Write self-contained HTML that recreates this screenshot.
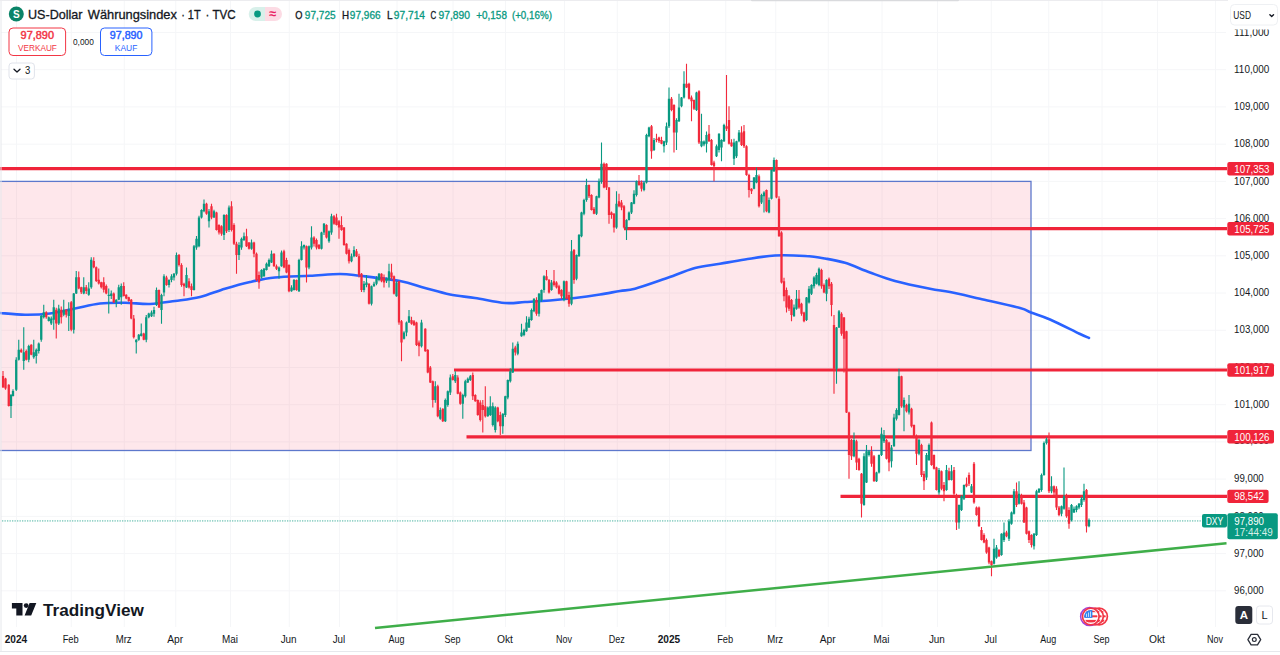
<!DOCTYPE html>
<html lang="de"><head><meta charset="utf-8"><title>US-Dollar Währungsindex</title>
<style>html,body{margin:0;padding:0;background:#fff;width:1280px;height:655px;overflow:hidden}svg text{font-family:"Liberation Sans",sans-serif}</style></head>
<body>
<svg width="1280" height="655" viewBox="0 0 1280 655" font-family='"Liberation Sans", sans-serif' style="display:block;position:absolute;left:0;top:0">
<rect x="0" y="0" width="1280" height="655" fill="#ffffff"/>
<path d="M16.5 1V627M71.25 1V627M124.25 1V627M175.75 1V627M230.5 1V627M289.25 1V627M339.5 1V627M397 1V627M453 1V627M505.5 1V627M564.5 1V627M617.25 1V627M669.5 1V627M725.75 1V627M775.75 1V627M828.25 1V627M882 1V627M937.5 1V627M991.25 1V627M1048.75 1V627M1102 1V627M1157.5 1V627M1215.5 1V627M1 590.8H1226M1 553.6H1226M1 516.4H1226M1 479.1H1226M1 441.9H1226M1 404.7H1226M1 367.5H1226M1 330.3H1226M1 293.0H1226M1 255.8H1226M1 218.6H1226M1 181.4H1226M1 144.2H1226M1 106.9H1226M1 69.7H1226M1 32.5H1226" stroke="#f5f6f8" stroke-width="1" fill="none"/>
<rect x="-2" y="181.4" width="1033" height="269.1" fill="#f7284f" fill-opacity="0.115" stroke="#5d78cc" stroke-width="1.3"/>
<path d="M2 520.9H1202" stroke="#089981" stroke-width="1.6" stroke-dasharray="1.3 1.2" opacity="0.42"/>
<path d="M0 168.7H1227" stroke="#f0243a" stroke-width="3.2"/>
<path d="M624 228.7H1227" stroke="#f0243a" stroke-width="3.2"/>
<path d="M454 370H1227" stroke="#f0243a" stroke-width="3.2"/>
<path d="M466.5 436.8H1227" stroke="#f0243a" stroke-width="3.2"/>
<path d="M840.5 496.4H1227" stroke="#f0243a" stroke-width="3.2"/>
<path d="M0 313C4.17 313.29 16.67 314.67 25 314.75C33.33 314.83 41.67 314.54 50 313.5C58.33 312.46 66.67 310.17 75 308.5C83.33 306.83 91.67 304.46 100 303.5C108.33 302.54 116.67 302.67 125 302.75C133.33 302.83 141.67 304.29 150 304C158.33 303.71 166.67 302.17 175 301C183.33 299.83 191.67 299.04 200 297C208.33 294.96 216.67 291.25 225 288.75C233.33 286.25 241.67 283.88 250 282C258.33 280.12 265 278.54 275 277.5C285 276.46 299.17 276.33 310 275.75C320.83 275.17 331.67 274 340 274C348.33 274 350 274.58 360 275.75C370 276.92 389.17 278.96 400 281C410.83 283.04 416.67 285.75 425 288C433.33 290.25 441.67 292.83 450 294.5C458.33 296.17 465.83 296.58 475 298C484.17 299.42 496.67 302.33 505 303C513.33 303.67 517.5 302.42 525 302C532.5 301.58 541.67 301.17 550 300.5C558.33 299.83 566.67 299 575 298C583.33 297 592.5 295.67 600 294.5C607.5 293.33 614.17 291.96 620 291C625.83 290.04 627.5 290.79 635 288.75C642.5 286.71 655 282.21 665 278.75C675 275.29 685.83 270.5 695 268C704.17 265.5 711.67 265.17 720 263.75C728.33 262.33 735.83 260.88 745 259.5C754.17 258.12 765 256.08 775 255.5C785 254.92 796.67 255.5 805 256C813.33 256.5 818.33 257.37 825 258.5C831.67 259.63 837.5 260.47 845 262.8C852.5 265.13 861.67 269.47 870 272.5C878.33 275.53 885 278.29 895 281C905 283.71 920.83 286.92 930 288.75C939.17 290.58 941.67 290.33 950 292C958.33 293.67 968.33 296.08 980 298.75C991.67 301.42 1011.5 305.71 1020 308C1028.5 310.29 1026 310.58 1031 312.5C1036 314.42 1041.92 315.96 1050 319.5C1058.08 323.04 1073 330.67 1079.5 333.75C1086 336.83 1087.42 337.29 1089 338" stroke="#2962ff" stroke-width="2.6" fill="none" stroke-linecap="round" stroke-linejoin="round"/>
<path d="M11 394.23V418M13 389.27V396.6M16.25 357.17V391.05M18.75 339.75V360.41M23.75 327.25V369.75M28.75 344.67V362.25M33.75 339.75V358.77M36.25 348.61V363.5M38.75 342.52V353.44M41.25 315.01V341.86M43.75 304.75V318.49M48.75 316.49V321.59M51.25 316.47V324.96M53.75 299.75V329.75M58.75 304.75V324.93M63.75 299.75V316.35M68.75 302.25V331M73.75 292.96V333.5M76.25 271V294.07M83.75 277.25V294.13M88.75 282.25V295.65M91.25 257.25V288.86M108.75 288.5V313.5M111.25 290.54V298.94M116.25 299.24V307.25M118.75 284.75V300.37M121.25 283.5V304.75M136.25 339.22V353.5M138.75 333.93V340.72M141.25 323.5V336.58M146.25 314.94V342.35M148.75 312.66V318.2M151.5 310.55V317.01M154 306.7V316.66M156.5 287.38V305.91M161.5 293.87V323.75M164 274.25V296.24M169 279.36V287.47M171.5 274.34V282.33M174 273.05V280.49M176.5 252.5V275.51M186.5 267.5V288.07M194 245.08V290.51M196.5 236.04V249.72M199 215.68V247.36M201.5 209.24V218.49M204 199.5V212.13M209 208.9V227.5M214 209.82V218.03M224 214.29V240M229 205.51V231.92M239 242.35V260M241.5 237.39V249.85M244 232.5V240.9M251.5 239.54V249.64M261.5 269.26V278.61M264 268.03V276.8M266.5 262.4V270.52M269 258.38V266.97M271.5 250.57V263.1M279 266.52V278.75M281.5 250.6V266.77M291.5 285.21V291.87M294 279.06V290.56M299 258.73V292.06M301.5 241.25V260.52M304 244.49V249.41M309 245.4V269.24M311.5 226.25V249.45M321.5 231.82V249.4M324 223V235.04M329 230.5V242.64M331.5 213.75V234.86M351.5 253.55V262.19M354 246.25V257.27M364 280.92V292.33M366.5 275V287.16M371.5 285.44V305.48M374 281.76V286.76M376.5 276.16V285.19M379 273.1V281.15M386.5 277.59V282.9M389 263.75V287.5M396.5 281.21V296.77M404 331.16V339.44M406.5 321.38V336.21M409 310V323.03M421.5 319.82V347.48M435.3 381.25V402.81M440.3 407.44V419.79M445.3 398.56V421.98M447.8 390.41V406.75M450.3 374.49V395.02M455.3 371.25V382.91M462.8 393.73V418.75M465.3 379.86V397.44M467.8 377.48V383.09M470.3 375.09V380.88M487.8 406.55V416.81M490.3 396.25V415.93M492.8 402.5V426.61M495.3 406.35V432.5M502.8 413.18V433.75M505.3 395.67V416.98M507.8 379.5V399.27M510.3 368.28V382.6M512.8 342.5V373.06M517.8 341.52V355.13M521.5 323.75V336.86M524 328.75V336.19M526.5 316.25V331.86M529 316.69V328.03M531.5 308.43V320.8M534 298.23V312.24M539 293.05V316.62M541.5 289.48V301.68M544 275.37V292.66M551.5 279.94V290.86M564 280.55V301.23M571.5 240V305.32M576.5 254.42V280.13M579 234.07V256.75M581.5 211.66V237.16M584 198.8V215.28M586.5 178.75V201.74M596.5 195.74V215.08M599 178.4V198.32M601.5 142.5V183.82M616.5 191.25V228.74M626.5 219.28V240M629 211.48V220.56M631.5 201.93V214.12M634 190.2V204.33M636.5 180.58V196.61M644 181.72V191.36M646.5 133.76V183.51M649 126.79V137.22M654 138.12V150.91M664 140.67V152.5M666.5 122.5V144.99M669 87.5V127.96M676.5 118.21V150M679 93.75V122.03M681.5 96.9V107.28M684 71.25V98.46M696.5 91.8V110.9M701.5 113.75V147.37M704 140.48V146.25M706.5 131.49V152.5M716.5 144.49V157.01M719 133.22V152.54M721.5 139.31V161.25M724 123.85V141.89M734 138.78V165M736.5 140.66V158.01M739 130.04V142.21M754 176.92V189.35M756.5 167.5V183.35M761.5 193.64V203.98M764 191.31V212.5M769 197.42V213.29M771.5 169.32V199.44M774 157.5V171.89M794 304.43V316.83M796.5 290V309.67M806.5 296.98V321.03M809 286.12V303.46M811.5 284.29V295.05M814 276.25V288.45M816.5 272.71V284.61M819 267.5V286.37M826.5 279.37V301.25M836.5 327V383.75M839 310V328.02M854 432.5V457.17M864 453.36V505.87M866.5 445V483.03M869 450.06V456.5M876.5 471.66V481.91M879 454.48V473.47M881.5 427.5V455.92M884 430V442.89M891.5 445.04V467.5M894 413.75V446.77M896.5 408.29V420.42M899 368.75V415.58M904 397.44V431.25M909 395V414.44M919 438.65V455.26M926.5 453.12V480.09M929 443.39V461.11M939 467.96V494.8M946.5 465V490.7M951.5 465V480.51M959 504.47V528.75M961.5 495.21V510.97M964 484.48V499.96M971.5 483.91V493.04M994 538.75V564.47M996.5 545.08V558.78M1001.5 533.17V555.69M1004 522.5V542.08M1009 519.35V540.95M1011.5 511.6V524.71M1014 489.03V514.51M1019 481.25V504.45M1034 533.11V549.49M1036.5 489.63V535.94M1039 488.17V493.05M1041.5 473.4V491.71M1044 441.47V475.8M1046.5 437.5V444.55M1051.5 476.25V493.25M1061.5 505.61V516.2M1064 467.5V509.8M1071.5 504.08V521.56M1074 506.58V513.07M1076.5 505.31V512.21M1079 503.05V509.36M1081.5 497.1V507.01M1084 483.75V501.86M1089 518.45V527.17" stroke="#089981" stroke-width="1.1" fill="none"/>
<path d="M9.85 394.75h2.3V406h-2.3zM11.85 391h2.3V396h-2.3zM15.1 359.75h2.3V389.75h-2.3zM17.6 349.75h2.3V359.75h-2.3zM22.6 352.25h2.3V361h-2.3zM27.6 346h2.3V359.75h-2.3zM32.6 352.25h2.3V357.25h-2.3zM35.1 349.75h2.3V356h-2.3zM37.6 343.5h2.3V351h-2.3zM40.1 316h2.3V339.75h-2.3zM42.6 312.25h2.3V317.25h-2.3zM47.6 317.25h2.3V321h-2.3zM50.1 318.5h2.3V323.5h-2.3zM52.6 307.25h2.3V319.75h-2.3zM57.6 308.5h2.3V323.5h-2.3zM62.6 309.75h2.3V314.75h-2.3zM67.6 309.75h2.3V316h-2.3zM72.6 293.5h2.3V329.75h-2.3zM75.1 277.25h2.3V293.5h-2.3zM82.6 287.25h2.3V293.5h-2.3zM87.6 288.5h2.3V294.75h-2.3zM90.1 259.75h2.3V287.25h-2.3zM107.6 294.75h2.3V296h-2.3zM110.1 293.5h2.3V296h-2.3zM115.1 299.75h2.3V302.25h-2.3zM117.6 287.25h2.3V299.75h-2.3zM120.1 286h2.3V297.25h-2.3zM135.1 339.75h2.3V342.25h-2.3zM137.6 334.75h2.3V339.75h-2.3zM140.1 333.5h2.3V336h-2.3zM145.1 317.25h2.3V339.75h-2.3zM147.6 313.5h2.3V317.25h-2.3zM150.35 312.5h2.3V316.25h-2.3zM152.85 310h2.3V313.75h-2.3zM155.35 290h2.3V305h-2.3zM160.35 295h2.3V310h-2.3zM162.85 276.25h2.3V292.5h-2.3zM167.85 280h2.3V285h-2.3zM170.35 276.25h2.3V280h-2.3zM172.85 273.75h2.3V277.5h-2.3zM175.35 255h2.3V273.75h-2.3zM185.35 275h2.3V287.5h-2.3zM192.85 246.25h2.3V290h-2.3zM195.35 238.75h2.3V247.5h-2.3zM197.85 217.5h2.3V246.25h-2.3zM200.35 210h2.3V217.5h-2.3zM202.85 203.75h2.3V211.25h-2.3zM207.85 211.25h2.3V221.25h-2.3zM212.85 211.25h2.3V217.5h-2.3zM222.85 215h2.3V235h-2.3zM227.85 207.5h2.3V230h-2.3zM237.85 245h2.3V255h-2.3zM240.35 238.75h2.3V247.5h-2.3zM242.85 236.25h2.3V240h-2.3zM250.35 242.5h2.3V248.75h-2.3zM260.35 270h2.3V277.5h-2.3zM262.85 268.75h2.3V276.25h-2.3zM265.35 263.75h2.3V270h-2.3zM267.85 260h2.3V266.25h-2.3zM270.35 253.75h2.3V262.5h-2.3zM277.85 267.5h2.3V271.25h-2.3zM280.35 252.5h2.3V266.25h-2.3zM290.35 287.5h2.3V291.25h-2.3zM292.85 280h2.3V290h-2.3zM297.85 260h2.3V291.25h-2.3zM300.35 246.25h2.3V260h-2.3zM302.85 245h2.3V247.5h-2.3zM307.85 246.25h2.3V267.5h-2.3zM310.35 237.5h2.3V247.5h-2.3zM320.35 232.5h2.3V248.75h-2.3zM322.85 223.75h2.3V232.5h-2.3zM327.85 231.25h2.3V241.25h-2.3zM330.35 216.25h2.3V232.5h-2.3zM350.35 256.25h2.3V261.25h-2.3zM352.85 250h2.3V256.25h-2.3zM362.85 283.75h2.3V290h-2.3zM365.35 282.5h2.3V285h-2.3zM370.35 286.25h2.3V303.75h-2.3zM372.85 283.75h2.3V286.25h-2.3zM375.35 278.75h2.3V283.75h-2.3zM377.85 273.75h2.3V280h-2.3zM385.35 278.75h2.3V281.25h-2.3zM387.85 271.25h2.3V280h-2.3zM395.35 282.5h2.3V296.25h-2.3zM402.85 332.5h2.3V338.75h-2.3zM405.35 322.5h2.3V332.5h-2.3zM407.85 316.25h2.3V322.5h-2.3zM420.35 322.5h2.3V346.25h-2.3zM434.15 386.25h2.3V400h-2.3zM439.15 410h2.3V418.75h-2.3zM444.15 400h2.3V421.25h-2.3zM446.65 391.25h2.3V405h-2.3zM449.15 377.5h2.3V392.5h-2.3zM454.15 375h2.3V381.25h-2.3zM461.65 395h2.3V403.75h-2.3zM464.15 381.25h2.3V396.25h-2.3zM466.65 378.75h2.3V382.5h-2.3zM469.15 376.25h2.3V380h-2.3zM486.65 407.5h2.3V416.25h-2.3zM489.15 406.25h2.3V415h-2.3zM491.65 406.25h2.3V425h-2.3zM494.15 407.5h2.3V430h-2.3zM501.65 413.75h2.3V426.25h-2.3zM504.15 396.25h2.3V415h-2.3zM506.65 380h2.3V397.5h-2.3zM509.15 371.25h2.3V381.25h-2.3zM511.65 348.75h2.3V372.5h-2.3zM516.65 343.75h2.3V353.75h-2.3zM520.35 332.5h2.3V336.25h-2.3zM522.85 330h2.3V335h-2.3zM525.35 322.5h2.3V331.25h-2.3zM527.85 318.75h2.3V327.5h-2.3zM530.35 310h2.3V320h-2.3zM532.85 298.75h2.3V311.25h-2.3zM537.85 293.75h2.3V313.75h-2.3zM540.35 290h2.3V300h-2.3zM542.85 276.25h2.3V290h-2.3zM550.35 282.5h2.3V290h-2.3zM562.85 281.25h2.3V300h-2.3zM570.35 251.25h2.3V303.75h-2.3zM575.35 255h2.3V278.75h-2.3zM577.85 235h2.3V256.25h-2.3zM580.35 212.5h2.3V236.25h-2.3zM582.85 200h2.3V213.75h-2.3zM585.35 185h2.3V200h-2.3zM595.35 196.25h2.3V213.75h-2.3zM597.85 181.25h2.3V197.5h-2.3zM600.35 163.75h2.3V181.25h-2.3zM615.35 203.75h2.3V227.5h-2.3zM625.35 220h2.3V228.75h-2.3zM627.85 212.5h2.3V220h-2.3zM630.35 202.5h2.3V212.5h-2.3zM632.85 193.75h2.3V203.75h-2.3zM635.35 181.25h2.3V195h-2.3zM642.85 182.5h2.3V190h-2.3zM645.35 135h2.3V182.5h-2.3zM647.85 127.5h2.3V136.25h-2.3zM652.85 140h2.3V150h-2.3zM662.85 141.25h2.3V146.25h-2.3zM665.35 126.25h2.3V142.5h-2.3zM667.85 98.75h2.3V126.25h-2.3zM675.35 120h2.3V132.5h-2.3zM677.85 107.5h2.3V121.25h-2.3zM680.35 97.5h2.3V106.25h-2.3zM682.85 83.75h2.3V97.5h-2.3zM695.35 92.5h2.3V110h-2.3zM700.35 141.25h2.3V146.25h-2.3zM702.85 141.5h2.3V144.5h-2.3zM705.35 135h2.3V143.75h-2.3zM715.35 146.25h2.3V156.25h-2.3zM717.85 133.75h2.3V150h-2.3zM720.35 140h2.3V147.5h-2.3zM722.85 125h2.3V141.25h-2.3zM732.85 142.5h2.3V158.75h-2.3zM735.35 141.25h2.3V156.25h-2.3zM737.85 132.5h2.3V141.25h-2.3zM752.85 177.5h2.3V188.75h-2.3zM755.35 175h2.3V182.5h-2.3zM760.35 195h2.3V202.5h-2.3zM762.85 192.5h2.3V196.25h-2.3zM767.85 200h2.3V212.5h-2.3zM770.35 170h2.3V198.75h-2.3zM772.85 160h2.3V171.25h-2.3zM792.85 307.5h2.3V316.25h-2.3zM795.35 298.75h2.3V308.75h-2.3zM805.35 297.5h2.3V320h-2.3zM807.85 288.75h2.3V302.5h-2.3zM810.35 285h2.3V293.75h-2.3zM812.85 277.5h2.3V286.25h-2.3zM815.35 275h2.3V283.75h-2.3zM817.85 268.75h2.3V285h-2.3zM825.35 280h2.3V293.75h-2.3zM835.35 327.5h2.3V368.75h-2.3zM837.85 311.25h2.3V327.5h-2.3zM852.85 440h2.3V456.25h-2.3zM862.85 456.25h2.3V505h-2.3zM865.35 451.25h2.3V482.5h-2.3zM867.85 451.25h2.3V455h-2.3zM875.35 472.5h2.3V481.25h-2.3zM877.85 455h2.3V472.5h-2.3zM880.35 433.75h2.3V455h-2.3zM882.85 435h2.3V441.25h-2.3zM890.35 447.5h2.3V461.25h-2.3zM892.85 417.5h2.3V446.25h-2.3zM895.35 410h2.3V418.75h-2.3zM897.85 376.25h2.3V415h-2.3zM902.85 400h2.3V407.5h-2.3zM907.85 403.75h2.3V412.5h-2.3zM917.85 440h2.3V453.75h-2.3zM925.35 455h2.3V477.5h-2.3zM927.85 445h2.3V460h-2.3zM937.85 470h2.3V492.5h-2.3zM945.35 470h2.3V490h-2.3zM950.35 471.25h2.3V480h-2.3zM957.85 505h2.3V522.5h-2.3zM960.35 496.25h2.3V510h-2.3zM962.85 485h2.3V498.75h-2.3zM970.35 486.25h2.3V492.5h-2.3zM992.85 548.75h2.3V563.75h-2.3zM995.35 547.5h2.3V557.5h-2.3zM1000.35 533.75h2.3V555h-2.3zM1002.85 532.5h2.3V540h-2.3zM1007.85 521.25h2.3V538.75h-2.3zM1010.35 512.5h2.3V523.75h-2.3zM1012.85 491.25h2.3V513.75h-2.3zM1017.85 493.75h2.3V503.75h-2.3zM1032.85 533.75h2.3V546.25h-2.3zM1035.35 491.25h2.3V535h-2.3zM1037.85 488.75h2.3V492.5h-2.3zM1040.35 475h2.3V490h-2.3zM1042.85 443h2.3V475h-2.3zM1045.35 439.25h2.3V443h-2.3zM1050.35 486.25h2.3V491.25h-2.3zM1060.35 506.25h2.3V513.75h-2.3zM1062.85 496.25h2.3V508.75h-2.3zM1070.35 505h2.3V520h-2.3zM1072.85 508.75h2.3V512.5h-2.3zM1075.35 506.25h2.3V510h-2.3zM1077.85 503.75h2.3V507.5h-2.3zM1080.35 498.75h2.3V505h-2.3zM1082.85 491.25h2.3V500h-2.3zM1087.85 520h2.3V526.25h-2.3z" fill="#089981"/>
<path d="M3 371V387.92M5.5 377.83V389.69M8.75 384.15V406.56M21.25 348.38V352.81M26.25 349.62V360.62M31.25 344.13V355.29M46.25 311.34V318.86M56.25 307.8V338.5M61.25 306.47V323.5M66.25 309.1V317.5M71.25 300.93V331.15M78.75 271.5V289.16M81.25 286.64V293.94M86.25 285.05V293.98M93.75 257.25V268.26M96.25 266.61V281.9M98.75 268.5V284.54M101.25 281.74V288.48M103.75 277.25V292.55M106.25 284.39V294.13M113.75 292.45V302.98M123.75 282.25V296.56M126.25 294.25V299.13M128.75 296.67V301.82M131.25 298.94V319.16M133.75 315.05V338.54M143.75 332.73V340.3M159 289.46V308.03M166.5 275.78V285.68M179 254.01V266.43M181.5 263.15V286.83M184 282.82V296.25M189 278.2V288.42M191.5 283.49V296.25M206.5 202.83V214.82M211.5 203.75V219.35M216.5 211.72V230.51M219 224.21V234.41M221.5 225.16V235.77M226.5 214.26V233.12M231.5 201.25V231.58M234 223.26V245.09M236.5 241.67V273.75M246.5 228.75V246.94M249 241.94V249.42M254 241.67V257.24M256.5 252.52V281.18M259 271.62V288.75M274 253.14V266.87M276.5 264.4V269.99M284 249.73V268.24M286.5 257.72V273.25M289 264.3V292.29M296.5 279.46V290.83M306.5 245.44V282.5M314 236.3V246.61M316.5 238.5V249.57M319 244.01V249.27M326.5 224.26V238.47M334 214.92V224.64M336.5 213.75V225.5M339 219.91V238.75M341.5 216.25V230.86M344 227V245.63M346.5 243.25V254.5M349 248.42V263.48M356.5 249.12V256.88M359 253.79V277.59M361.5 272.99V291.97M369 283.22V304.42M381.5 273.18V282.27M384 274.47V287.5M391.5 263.75V279.66M394 275.58V294.38M399 280.69V324.63M401.5 320.06V361.25M411.5 316.72V324.67M414 320.06V325.93M416.5 321.74V345.94M419 340.54V356.25M425.3 328.21V351.76M427.8 349.02V373.17M430.3 366.07V383M432.8 380.4V407.5M437.8 384.84V417.26M442.8 408.2V422.05M452.8 373.94V380.62M457.8 375.3V394.3M460.3 391.59V404.82M472.8 372.5V399.91M475.3 394.28V401.81M477.8 399.39V415.72M480.3 400.23V421.58M482.8 400V432.5M485.3 386.25V417.51M497.8 406.76V422.37M500.3 411.67V435M515.3 345.75V355.38M536.5 297.34V315.72M546.5 270V280.53M549 279V293.47M554 270V286.56M556.5 281.34V288.59M559 284.77V294.58M561.5 289.17V298.96M566.5 280.72V299.33M569 291.72V306.81M574 248.89V283.75M589 184.42V197.95M591.5 194.25V210.6M594 207.08V214.36M604 162.59V188.31M606.5 163.24V190.03M609 186.92V223.75M611.5 211.61V218.69M614 212.91V232.5M619 193.75V207.34M621.5 199.93V210.23M624 205.05V228.4M639 175V185.84M641.5 180.54V191.47M651.5 125.09V158.75M656.5 133.75V142.35M659 136.65V143.11M661.5 136.81V144.29M671.5 96.89V111.21M674 104.15V152.5M686.5 63.75V88.01M689 82.81V99.47M691.5 95.47V121.25M694 99.48V110.01M699 90.34V144.03M709 125V142M711.5 138.98V165.52M714 160.78V181.25M726.5 75V130.94M729 106.25V144.44M731.5 139.28V146.84M741.5 126.25V146.11M744 125V147.95M746.5 145.22V175.81M749 173.8V197.5M751.5 188.14V194.03M759 174.6V207.42M766.5 189.45V212.15M776.5 159.43V198.18M779 196.25V236.85M781.5 231.33V283.45M784 277.76V301.25M786.5 287.41V312.5M789 295.08V310.9M791.5 298.97V321.25M799 290V308.86M801.5 302.84V315.87M804 311.81V322.32M821.5 268.76V288.75M824 283.54V293.27M829 277.52V288.95M831.5 281.89V316.25M834 315V393.75M841.5 312.32V335.86M844 316.89V372.5M846.5 330.7V413M849 411.87V478.75M851.5 439.04V460M856.5 439.71V470M859 457.81V470.63M861.5 473.04V517.5M871.5 446.25V466.66M874 454.96V481.83M886.5 439V459.58M889 441.85V471.25M901.5 375.72V407.63M906.5 403.84V412.6M911.5 407.65V427.48M914 424.45V438.22M916.5 434.54V465M921.5 443.74V477.03M924 470.97V490M931.5 421.54V465.75M934 454.49V469.6M936.5 466.83V490.5M941.5 470.61V490.29M944 481.94V501.25M949 467.73V480.58M954 467.09V496.08M956.5 493.86V530M966.5 477.5V487.16M969 472.5V485.95M974 462.07V503.86M976.5 506.59V515.77M979 506.51V526.75M981.5 526.89V540.51M984 533.13V543.32M986.5 538.49V553.86M989 546.79V564.22M991.5 560.51V576.25M999 548.95V557.02M1006.5 530.83V537.13M1016.5 482.5V507.07M1021.5 493.76V504.45M1024 499.92V523.08M1026.5 506.72V534.54M1029 530.53V542.99M1031.5 534.16V547.5M1049 432.5V493.12M1054 485.41V495.22M1056.5 486.35V510.03M1059 505.98V516.19M1066.5 493.83V517.64M1069 507.3V528.75M1086.5 489V532.5" stroke="#f22a3c" stroke-width="1.1" fill="none"/>
<path d="M1.85 376h2.3V387.25h-2.3zM4.35 378.5h2.3V388.5h-2.3zM7.6 384.75h2.3V406h-2.3zM20.1 349.75h2.3V352.25h-2.3zM25.1 351h2.3V359.75h-2.3zM30.1 344.75h2.3V354.75h-2.3zM45.1 312.25h2.3V317.25h-2.3zM55.1 309.75h2.3V323.5h-2.3zM60.1 309.75h2.3V317.25h-2.3zM65.1 309.75h2.3V314.75h-2.3zM70.1 302.25h2.3V329.75h-2.3zM77.6 277.25h2.3V288.5h-2.3zM80.1 287.25h2.3V292.25h-2.3zM85.1 287.25h2.3V291h-2.3zM92.6 261h2.3V267.25h-2.3zM95.1 267.25h2.3V281h-2.3zM97.6 279.75h2.3V283.5h-2.3zM100.1 282.25h2.3V287.25h-2.3zM102.6 282.25h2.3V289.75h-2.3zM105.1 286h2.3V293.5h-2.3zM112.6 293.5h2.3V302.25h-2.3zM122.6 286h2.3V296h-2.3zM125.1 294.75h2.3V298.5h-2.3zM127.6 297.25h2.3V301h-2.3zM130.1 299.75h2.3V318.5h-2.3zM132.6 318.5h2.3V337.25h-2.3zM142.6 333.5h2.3V339.75h-2.3zM157.85 290h2.3V307.5h-2.3zM165.35 277.5h2.3V285h-2.3zM177.85 255h2.3V265h-2.3zM180.35 265h2.3V285h-2.3zM182.85 283.75h2.3V286.25h-2.3zM187.85 281.25h2.3V287.5h-2.3zM190.35 286.25h2.3V290h-2.3zM205.35 203.75h2.3V213.75h-2.3zM210.35 206.25h2.3V217.5h-2.3zM215.35 212.5h2.3V230h-2.3zM217.85 225h2.3V232.5h-2.3zM220.35 226.25h2.3V233.75h-2.3zM225.35 215h2.3V231.25h-2.3zM230.35 206.25h2.3V230h-2.3zM232.85 225h2.3V243.75h-2.3zM235.35 243.75h2.3V255h-2.3zM245.35 236.25h2.3V246.25h-2.3zM247.85 242.5h2.3V248.75h-2.3zM252.85 242.5h2.3V253.75h-2.3zM255.35 253.75h2.3V280h-2.3zM257.85 275h2.3V282.5h-2.3zM272.85 253.75h2.3V266.25h-2.3zM275.35 266.25h2.3V268.75h-2.3zM282.85 251.25h2.3V267.5h-2.3zM285.35 260h2.3V272.5h-2.3zM287.85 265h2.3V291.25h-2.3zM295.35 280h2.3V290h-2.3zM305.35 246.25h2.3V267.5h-2.3zM312.85 237.5h2.3V243.75h-2.3zM315.35 240h2.3V247.5h-2.3zM317.85 245h2.3V248.75h-2.3zM325.35 225h2.3V237.5h-2.3zM332.85 216.25h2.3V223.75h-2.3zM335.35 217.5h2.3V225h-2.3zM337.85 221.25h2.3V227.5h-2.3zM340.35 225h2.3V230h-2.3zM342.85 227.5h2.3V245h-2.3zM345.35 243.75h2.3V253.75h-2.3zM347.85 250h2.3V261.25h-2.3zM355.35 251.25h2.3V256.25h-2.3zM357.85 256.25h2.3V275h-2.3zM360.35 273.75h2.3V290h-2.3zM367.85 283.75h2.3V303.75h-2.3zM380.35 273.75h2.3V281.25h-2.3zM382.85 277.5h2.3V282.5h-2.3zM390.35 272.5h2.3V277.5h-2.3zM392.85 276.25h2.3V293.75h-2.3zM397.85 281.25h2.3V322.5h-2.3zM400.35 321.25h2.3V342.5h-2.3zM410.35 320h2.3V323.75h-2.3zM412.85 321.25h2.3V325h-2.3zM415.35 322.5h2.3V345h-2.3zM417.85 342.5h2.3V346.25h-2.3zM424.15 328.75h2.3V351.25h-2.3zM426.65 350h2.3V372.5h-2.3zM429.15 367.5h2.3V382.5h-2.3zM431.65 381.25h2.3V400h-2.3zM436.65 386.25h2.3V416.25h-2.3zM441.65 408.75h2.3V421.25h-2.3zM451.65 376.25h2.3V380h-2.3zM456.65 377.5h2.3V393.75h-2.3zM459.15 392.5h2.3V403.75h-2.3zM471.65 375h2.3V396.25h-2.3zM474.15 395h2.3V401.25h-2.3zM476.65 400h2.3V415h-2.3zM479.15 402.5h2.3V420h-2.3zM481.65 405h2.3V410h-2.3zM484.15 406.25h2.3V416.25h-2.3zM496.65 407.5h2.3V421.25h-2.3zM499.15 415h2.3V426.25h-2.3zM514.15 347.5h2.3V352.5h-2.3zM535.35 300h2.3V313.75h-2.3zM545.35 276.25h2.3V280h-2.3zM547.85 280h2.3V292.5h-2.3zM552.85 281.25h2.3V285h-2.3zM555.35 282.5h2.3V287.5h-2.3zM557.85 286.25h2.3V293.75h-2.3zM560.35 290h2.3V296.25h-2.3zM565.35 281.25h2.3V298.75h-2.3zM567.85 295h2.3V303.75h-2.3zM572.85 250h2.3V280h-2.3zM587.85 185h2.3V196.25h-2.3zM590.35 195h2.3V210h-2.3zM592.85 208.75h2.3V213.75h-2.3zM602.85 163.75h2.3V187.5h-2.3zM605.35 163.75h2.3V187.5h-2.3zM607.85 187.5h2.3V215h-2.3zM610.35 212.5h2.3V215h-2.3zM612.85 213.75h2.3V227.5h-2.3zM617.85 201.25h2.3V206.25h-2.3zM620.35 202.5h2.3V207.5h-2.3zM622.85 206.25h2.3V227.5h-2.3zM637.85 181.25h2.3V185h-2.3zM640.35 182.5h2.3V188.75h-2.3zM650.35 126.25h2.3V151.25h-2.3zM655.35 138.75h2.3V140h-2.3zM657.85 137.5h2.3V141.25h-2.3zM660.35 140h2.3V143.75h-2.3zM670.35 98.75h2.3V110h-2.3zM672.85 105h2.3V132.5h-2.3zM685.35 83.75h2.3V87.5h-2.3zM687.85 83.75h2.3V98.75h-2.3zM690.35 97.5h2.3V101.25h-2.3zM692.85 100h2.3V108.75h-2.3zM697.85 91.25h2.3V142.5h-2.3zM707.85 133.75h2.3V141.25h-2.3zM710.35 140h2.3V165h-2.3zM712.85 162.5h2.3V166.25h-2.3zM725.35 126.25h2.3V128.75h-2.3zM727.85 120h2.3V143.75h-2.3zM730.35 142.5h2.3V146.25h-2.3zM740.35 132.5h2.3V145h-2.3zM742.85 131.25h2.3V146.25h-2.3zM745.35 146.25h2.3V175h-2.3zM747.85 175h2.3V190h-2.3zM750.35 188.75h2.3V191.25h-2.3zM757.85 176.25h2.3V206.25h-2.3zM765.35 190h2.3V211.25h-2.3zM775.35 160h2.3V197.5h-2.3zM777.85 198.75h2.3V236.25h-2.3zM780.35 232.5h2.3V282.5h-2.3zM782.85 281.25h2.3V296.25h-2.3zM785.35 290h2.3V307.5h-2.3zM787.85 296.25h2.3V308.75h-2.3zM790.35 300h2.3V315h-2.3zM797.85 298.75h2.3V307.5h-2.3zM800.35 303.75h2.3V313.75h-2.3zM802.85 312.5h2.3V321.25h-2.3zM820.35 270h2.3V286.25h-2.3zM822.85 285h2.3V292.5h-2.3zM827.85 278.75h2.3V286.25h-2.3zM830.35 283.75h2.3V305h-2.3zM832.85 325h2.3V368.75h-2.3zM840.35 313.75h2.3V333.75h-2.3zM842.85 317.5h2.3V338.75h-2.3zM845.35 331.25h2.3V412.5h-2.3zM847.85 412.5h2.3V455h-2.3zM850.35 440h2.3V456.25h-2.3zM855.35 441.25h2.3V462.5h-2.3zM857.85 458.75h2.3V470h-2.3zM860.35 473.75h2.3V503.75h-2.3zM870.35 451.25h2.3V463.75h-2.3zM872.85 456.25h2.3V481.25h-2.3zM885.35 440h2.3V458.75h-2.3zM887.85 442.5h2.3V462.5h-2.3zM900.35 376.25h2.3V406.25h-2.3zM905.35 405h2.3V411.25h-2.3zM910.35 408.75h2.3V426.25h-2.3zM912.85 425h2.3V437.5h-2.3zM915.35 437.5h2.3V453.75h-2.3zM920.35 445h2.3V475h-2.3zM922.85 473.75h2.3V481.25h-2.3zM930.35 422.5h2.3V465h-2.3zM932.85 455h2.3V468.75h-2.3zM935.35 467.5h2.3V490h-2.3zM940.35 471.25h2.3V488.75h-2.3zM942.85 485h2.3V491.25h-2.3zM947.85 471.25h2.3V480h-2.3zM952.85 470h2.3V493.75h-2.3zM955.35 495h2.3V522.5h-2.3zM965.35 483.75h2.3V486.25h-2.3zM967.85 475h2.3V483.75h-2.3zM972.85 463.75h2.3V502.5h-2.3zM975.35 507.5h2.3V515h-2.3zM977.85 507.5h2.3V526.25h-2.3zM980.35 530h2.3V540h-2.3zM982.85 535h2.3V542.5h-2.3zM985.35 540h2.3V552.5h-2.3zM987.85 547.5h2.3V562.5h-2.3zM990.35 561.25h2.3V565h-2.3zM997.85 550h2.3V556.25h-2.3zM1005.35 532.5h2.3V536.25h-2.3zM1015.35 491.25h2.3V505h-2.3zM1020.35 495h2.3V503.75h-2.3zM1022.85 502.5h2.3V522.5h-2.3zM1025.35 507.5h2.3V533.75h-2.3zM1027.85 531.25h2.3V540h-2.3zM1030.35 535h2.3V545h-2.3zM1047.85 439.25h2.3V491.25h-2.3zM1052.85 486.25h2.3V492.5h-2.3zM1055.35 488.75h2.3V507.5h-2.3zM1057.85 507.5h2.3V515h-2.3zM1065.35 495h2.3V516.25h-2.3zM1067.85 510h2.3V523.75h-2.3zM1085.35 490h2.3V526.25h-2.3z" fill="#f22a3c"/>
<path d="M375 628L1226.5 543.2" stroke="#3fae49" stroke-width="2.6" fill="none"/>
<text x="1234.1" y="594" font-size="10.8" fill="#131722" font-weight="400" textLength="29.6" lengthAdjust="spacingAndGlyphs">96,000</text>
<text x="1234.1" y="556.78" font-size="10.8" fill="#131722" font-weight="400" textLength="29.6" lengthAdjust="spacingAndGlyphs">97,000</text>
<text x="1234.1" y="519.56" font-size="10.8" fill="#131722" font-weight="400" textLength="29.6" lengthAdjust="spacingAndGlyphs">98,000</text>
<text x="1234.1" y="482.34" font-size="10.8" fill="#131722" font-weight="400" textLength="29.6" lengthAdjust="spacingAndGlyphs">99,000</text>
<text x="1234.1" y="443.92" font-size="10.8" fill="#131722" font-weight="400" textLength="35.1" lengthAdjust="spacingAndGlyphs">100,000</text>
<text x="1234.1" y="407.9" font-size="10.8" fill="#131722" font-weight="400" textLength="35.1" lengthAdjust="spacingAndGlyphs">101,000</text>
<text x="1234.1" y="370.68" font-size="10.8" fill="#131722" font-weight="400" textLength="35.1" lengthAdjust="spacingAndGlyphs">102,000</text>
<text x="1234.1" y="333.46" font-size="10.8" fill="#131722" font-weight="400" textLength="35.1" lengthAdjust="spacingAndGlyphs">103,000</text>
<text x="1234.1" y="296.24" font-size="10.8" fill="#131722" font-weight="400" textLength="35.1" lengthAdjust="spacingAndGlyphs">104,000</text>
<text x="1234.1" y="259.02" font-size="10.8" fill="#131722" font-weight="400" textLength="35.1" lengthAdjust="spacingAndGlyphs">105,000</text>
<text x="1234.1" y="221.8" font-size="10.8" fill="#131722" font-weight="400" textLength="35.1" lengthAdjust="spacingAndGlyphs">106,000</text>
<text x="1234.1" y="184.58" font-size="10.8" fill="#131722" font-weight="400" textLength="35.1" lengthAdjust="spacingAndGlyphs">107,000</text>
<text x="1234.1" y="147.36" font-size="10.8" fill="#131722" font-weight="400" textLength="35.1" lengthAdjust="spacingAndGlyphs">108,000</text>
<text x="1234.1" y="110.14" font-size="10.8" fill="#131722" font-weight="400" textLength="35.1" lengthAdjust="spacingAndGlyphs">109,000</text>
<text x="1234.1" y="72.92" font-size="10.8" fill="#131722" font-weight="400" textLength="35.1" lengthAdjust="spacingAndGlyphs">110,000</text>
<text x="1234.1" y="35.7" font-size="10.8" fill="#131722" font-weight="400" textLength="35.1" lengthAdjust="spacingAndGlyphs">111,000</text>
<rect x="1227.3" y="162" width="46.7" height="13.4" rx="2" fill="#f0243a"/>
<text x="1234.3" y="172.7" font-size="10.8" fill="#ffffff" font-weight="400" textLength="35.2" lengthAdjust="spacingAndGlyphs">107,353</text>
<rect x="1227.3" y="222" width="46.7" height="13.4" rx="2" fill="#f0243a"/>
<text x="1234.3" y="232.7" font-size="10.8" fill="#ffffff" font-weight="400" textLength="35.2" lengthAdjust="spacingAndGlyphs">105,725</text>
<rect x="1227.3" y="363.3" width="46.7" height="13.4" rx="2" fill="#f0243a"/>
<text x="1234.3" y="374" font-size="10.8" fill="#ffffff" font-weight="400" textLength="35.2" lengthAdjust="spacingAndGlyphs">101,917</text>
<rect x="1227.3" y="430.1" width="46.7" height="13.4" rx="2" fill="#f0243a"/>
<text x="1234.3" y="440.8" font-size="10.8" fill="#ffffff" font-weight="400" textLength="35.2" lengthAdjust="spacingAndGlyphs">100,126</text>
<rect x="1227.3" y="489.7" width="41.3" height="13.4" rx="2" fill="#f0243a"/>
<text x="1234.3" y="500.4" font-size="10.8" fill="#ffffff" font-weight="400" textLength="29.7" lengthAdjust="spacingAndGlyphs">98,542</text>
<rect x="1202" y="514" width="25" height="13.6" rx="2" fill="#089981"/>
<text x="1205.7" y="525" font-size="10.5" fill="#ffffff" font-weight="400" textLength="17.6" lengthAdjust="spacingAndGlyphs">DXY</text>
<rect x="1227.4" y="513.3" width="50.4" height="26" rx="2" fill="#089981"/>
<text x="1234.3" y="524.5" font-size="10.8" fill="#ffffff" font-weight="400" textLength="29.7" lengthAdjust="spacingAndGlyphs">97,890</text>
<text x="1234.3" y="536" font-size="10.8" fill="#d5efe9" font-weight="400" textLength="38.4" lengthAdjust="spacingAndGlyphs">17:44:49</text>
<text x="4.65" y="642.7" font-size="10.2" fill="#131722" font-weight="700" textLength="22.5" lengthAdjust="spacingAndGlyphs">2024</text>
<text x="62.65" y="642.7" font-size="10.2" fill="#131722" font-weight="400" textLength="16" lengthAdjust="spacingAndGlyphs">Feb</text>
<text x="115.65" y="642.7" font-size="10.2" fill="#131722" font-weight="400" textLength="16" lengthAdjust="spacingAndGlyphs">Mrz</text>
<text x="167.15" y="642.7" font-size="10.2" fill="#131722" font-weight="400" textLength="16" lengthAdjust="spacingAndGlyphs">Apr</text>
<text x="221.9" y="642.7" font-size="10.2" fill="#131722" font-weight="400" textLength="16" lengthAdjust="spacingAndGlyphs">Mai</text>
<text x="280.65" y="642.7" font-size="10.2" fill="#131722" font-weight="400" textLength="16" lengthAdjust="spacingAndGlyphs">Jun</text>
<text x="332.65" y="642.7" font-size="10.2" fill="#131722" font-weight="400" textLength="12.5" lengthAdjust="spacingAndGlyphs">Jul</text>
<text x="388.4" y="642.7" font-size="10.2" fill="#131722" font-weight="400" textLength="16" lengthAdjust="spacingAndGlyphs">Aug</text>
<text x="444.4" y="642.7" font-size="10.2" fill="#131722" font-weight="400" textLength="16" lengthAdjust="spacingAndGlyphs">Sep</text>
<text x="496.9" y="642.7" font-size="10.2" fill="#131722" font-weight="400" textLength="16" lengthAdjust="spacingAndGlyphs">Okt</text>
<text x="555.9" y="642.7" font-size="10.2" fill="#131722" font-weight="400" textLength="16" lengthAdjust="spacingAndGlyphs">Nov</text>
<text x="608.65" y="642.7" font-size="10.2" fill="#131722" font-weight="400" textLength="16" lengthAdjust="spacingAndGlyphs">Dez</text>
<text x="657.65" y="642.7" font-size="10.2" fill="#131722" font-weight="700" textLength="22.5" lengthAdjust="spacingAndGlyphs">2025</text>
<text x="717.15" y="642.7" font-size="10.2" fill="#131722" font-weight="400" textLength="16" lengthAdjust="spacingAndGlyphs">Feb</text>
<text x="767.15" y="642.7" font-size="10.2" fill="#131722" font-weight="400" textLength="16" lengthAdjust="spacingAndGlyphs">Mrz</text>
<text x="819.65" y="642.7" font-size="10.2" fill="#131722" font-weight="400" textLength="16" lengthAdjust="spacingAndGlyphs">Apr</text>
<text x="873.4" y="642.7" font-size="10.2" fill="#131722" font-weight="400" textLength="16" lengthAdjust="spacingAndGlyphs">Mai</text>
<text x="928.9" y="642.7" font-size="10.2" fill="#131722" font-weight="400" textLength="16" lengthAdjust="spacingAndGlyphs">Jun</text>
<text x="984.4" y="642.7" font-size="10.2" fill="#131722" font-weight="400" textLength="12.5" lengthAdjust="spacingAndGlyphs">Jul</text>
<text x="1040.15" y="642.7" font-size="10.2" fill="#131722" font-weight="400" textLength="16" lengthAdjust="spacingAndGlyphs">Aug</text>
<text x="1093.4" y="642.7" font-size="10.2" fill="#131722" font-weight="400" textLength="16" lengthAdjust="spacingAndGlyphs">Sep</text>
<text x="1148.9" y="642.7" font-size="10.2" fill="#131722" font-weight="400" textLength="16" lengthAdjust="spacingAndGlyphs">Okt</text>
<text x="1206.9" y="642.7" font-size="10.2" fill="#131722" font-weight="400" textLength="16" lengthAdjust="spacingAndGlyphs">Nov</text>
<path d="M0 651.5H1280" stroke="#e6e8ec" stroke-width="1"/>
<path d="M1 0V651" stroke="#e6e8ec" stroke-width="1"/>
<path d="M0 0.5H1280" stroke="#ececef" stroke-width="1"/>
<rect x="751" y="-1" width="208" height="2.2" rx="1" fill="#d9dadd"/>
<circle cx="16.3" cy="14" r="7.5" fill="#0b8468"/>
<text x="16.3" y="17.7" font-size="10" font-weight="700" fill="#ffffff" text-anchor="middle">S</text>
<text x="28" y="19" font-size="12.6" fill="#131722" font-weight="400" textLength="54.5" lengthAdjust="spacingAndGlyphs" stroke="#131722" stroke-width="0.3">US-Dollar</text>
<text x="87.8" y="19" font-size="12.6" fill="#131722" font-weight="400" textLength="89.1" lengthAdjust="spacingAndGlyphs" stroke="#131722" stroke-width="0.3">Währungsindex</text>
<text x="181.2" y="19" font-size="12.6" fill="#131722" font-weight="400" textLength="19.4" lengthAdjust="spacingAndGlyphs" stroke="#131722" stroke-width="0.3">· 1T</text>
<text x="205.6" y="19" font-size="12.6" fill="#131722" font-weight="400" textLength="30.1" lengthAdjust="spacingAndGlyphs" stroke="#131722" stroke-width="0.3">· TVC</text>
<path d="M255.7 7H265V21H255.7a7 7 0 0 1 0-14z" fill="#d8f0ea"/>
<path d="M265 7H275a7 7 0 0 1 0 14H265z" fill="#fcdbe4"/>
<circle cx="257.5" cy="14" r="3.4" fill="#089981"/>
<text x="272.6" y="18.3" font-size="13" font-weight="700" fill="#e91e63" text-anchor="middle">≈</text>
<text x="295.3" y="18.6" font-size="10.6" fill="#131722" font-weight="400" textLength="7.2" lengthAdjust="spacingAndGlyphs" stroke="#131722" stroke-width="0.3">O</text>
<text x="304.8" y="18.6" font-size="10.6" fill="#089981" font-weight="400" textLength="30.8" lengthAdjust="spacingAndGlyphs" stroke="#089981" stroke-width="0.3">97,725</text>
<text x="341.9" y="18.6" font-size="10.6" fill="#131722" font-weight="400" textLength="7.1" lengthAdjust="spacingAndGlyphs" stroke="#131722" stroke-width="0.3">H</text>
<text x="349.8" y="18.6" font-size="10.6" fill="#089981" font-weight="400" textLength="30.8" lengthAdjust="spacingAndGlyphs" stroke="#089981" stroke-width="0.3">97,966</text>
<text x="386.9" y="18.6" font-size="10.6" fill="#131722" font-weight="400" textLength="5.6" lengthAdjust="spacingAndGlyphs" stroke="#131722" stroke-width="0.3">L</text>
<text x="393.8" y="18.6" font-size="10.6" fill="#089981" font-weight="400" textLength="31.2" lengthAdjust="spacingAndGlyphs" stroke="#089981" stroke-width="0.3">97,714</text>
<text x="430.6" y="18.6" font-size="10.6" fill="#131722" font-weight="400" textLength="5.7" lengthAdjust="spacingAndGlyphs" stroke="#131722" stroke-width="0.3">C</text>
<text x="438.5" y="18.6" font-size="10.6" fill="#089981" font-weight="400" textLength="31.5" lengthAdjust="spacingAndGlyphs" stroke="#089981" stroke-width="0.3">97,890</text>
<text x="476.3" y="18.6" font-size="10.6" fill="#089981" font-weight="400" textLength="30.6" lengthAdjust="spacingAndGlyphs" stroke="#089981" stroke-width="0.3">+0,158</text>
<text x="511.9" y="18.6" font-size="10.6" fill="#089981" font-weight="400" textLength="40" lengthAdjust="spacingAndGlyphs" stroke="#089981" stroke-width="0.3">(+0,16%)</text>
<rect x="9" y="28" width="56.6" height="27.5" rx="4" fill="#fff" stroke="#f23645" stroke-width="1"/>
<text x="20.6" y="39.2" font-size="10.5" fill="#f23645" font-weight="400" textLength="33.4" lengthAdjust="spacingAndGlyphs" stroke="#f23645" stroke-width="0.45">97,890</text>
<text x="18" y="50.6" font-size="8.6" fill="#f23645" font-weight="400" textLength="38.9" lengthAdjust="spacingAndGlyphs">VERKAUF</text>
<text x="73" y="45.4" font-size="8.4" fill="#131722" font-weight="400" textLength="20.8" lengthAdjust="spacingAndGlyphs">0,000</text>
<rect x="100.5" y="28" width="51.4" height="27.5" rx="4" fill="#fff" stroke="#2962ff" stroke-width="1"/>
<text x="109.8" y="39.2" font-size="10.5" fill="#2962ff" font-weight="400" textLength="32.7" lengthAdjust="spacingAndGlyphs" stroke="#2962ff" stroke-width="0.45">97,890</text>
<text x="114.8" y="50.6" font-size="8.6" fill="#2962ff" font-weight="400" textLength="22.5" lengthAdjust="spacingAndGlyphs">KAUF</text>
<rect x="9" y="63" width="25.4" height="16" rx="3" fill="#fff" stroke="#e0e3eb" stroke-width="1"/>
<path d="M14 69.3l3 2.8 3-2.8" stroke="#131722" stroke-width="1.3" fill="none" stroke-linecap="round" stroke-linejoin="round"/>
<text x="25" y="74.2" font-size="10.5" fill="#131722" font-weight="400" textLength="5.3" lengthAdjust="spacingAndGlyphs">3</text>
<rect x="1228" y="0" width="52" height="29.5" fill="#fff"/>
<rect x="1230.5" y="4.5" width="47" height="20.5" rx="4" fill="#fff" stroke="#eef0f3" stroke-width="1"/>
<text x="1233.3" y="18.6" font-size="10.6" fill="#131722" font-weight="400" textLength="17.7" lengthAdjust="spacingAndGlyphs">USD</text>
<path d="M1269.9 14.7l1.8 1.7 1.8-1.7" stroke="#131722" stroke-width="1.4" fill="none" stroke-linecap="round" stroke-linejoin="round"/>
<rect x="1235.3" y="606" width="17" height="18" rx="3" fill="#2a2e39"/>
<text x="1243.8" y="619.2" font-size="11.5" font-weight="700" fill="#fff" text-anchor="middle">A</text>
<rect x="1256.5" y="606" width="16" height="18" rx="3" fill="#fff" stroke="#e6e8ee" stroke-width="1"/>
<text x="1264.5" y="619.2" font-size="11" fill="#131722" text-anchor="middle">L</text>
<polygon points="1260.70,639.60 1257.50,644.87 1251.10,644.87 1247.90,639.60 1251.10,634.33 1257.50,634.33" fill="none" stroke="#2a2e39" stroke-width="1.3" stroke-linejoin="round"/>
<circle cx="1254.3" cy="639.6" r="1.9" fill="none" stroke="#2a2e39" stroke-width="1.2"/>
<circle cx="1099.1" cy="616.5" r="8.3" fill="#fff" stroke="#f23645" stroke-width="1.7"/>
<clipPath id="fc1099"><circle cx="1099.1" cy="616.5" r="6.6"/></clipPath><g clip-path="url(#fc1099)"><rect x="1091.1" y="608.5" width="16" height="16" fill="#fff"/><rect x="1091.1" y="610.4" width="16" height="1.8" fill="#f23645"/><rect x="1091.1" y="615.3" width="16" height="2" fill="#f23645"/><rect x="1091.1" y="619.9" width="16" height="2.6" fill="#f23645"/><rect x="1091.5" y="609.1" width="9.2" height="8.8" fill="#2f86f0"/><rect x="1094.4" y="613.7" width="0.8" height="3.2" fill="#e8f1fd"/><rect x="1096.4" y="612.5" width="0.8" height="4.4" fill="#e8f1fd"/><rect x="1098.4" y="611.5" width="0.8" height="5.4" fill="#e8f1fd"/></g>
<circle cx="1095" cy="616.5" r="8.3" fill="#fff" stroke="#f23645" stroke-width="1.7"/>
<clipPath id="fc1095"><circle cx="1095" cy="616.5" r="6.6"/></clipPath><g clip-path="url(#fc1095)"><rect x="1087" y="608.5" width="16" height="16" fill="#fff"/><rect x="1087" y="610.4" width="16" height="1.8" fill="#f23645"/><rect x="1087" y="615.3" width="16" height="2" fill="#f23645"/><rect x="1087" y="619.9" width="16" height="2.6" fill="#f23645"/><rect x="1087.4" y="609.1" width="9.2" height="8.8" fill="#2f86f0"/><rect x="1090.3" y="613.7" width="0.8" height="3.2" fill="#e8f1fd"/><rect x="1092.3" y="612.5" width="0.8" height="4.4" fill="#e8f1fd"/><rect x="1094.3" y="611.5" width="0.8" height="5.4" fill="#e8f1fd"/></g>
<circle cx="1089.6" cy="616.5" r="9.0" fill="none" stroke="#a33fd8" stroke-width="1.5"/>
<circle cx="1090.8" cy="616.5" r="8.3" fill="#fff" stroke="#f23645" stroke-width="1.7"/>
<clipPath id="fc1090"><circle cx="1090.8" cy="616.5" r="6.6"/></clipPath><g clip-path="url(#fc1090)"><rect x="1082.8" y="608.5" width="16" height="16" fill="#fff"/><rect x="1082.8" y="610.4" width="16" height="1.8" fill="#f23645"/><rect x="1082.8" y="615.3" width="16" height="2" fill="#f23645"/><rect x="1082.8" y="619.9" width="16" height="2.6" fill="#f23645"/><rect x="1083.2" y="609.1" width="9.2" height="8.8" fill="#2f86f0"/><rect x="1086.1" y="613.7" width="0.8" height="3.2" fill="#e8f1fd"/><rect x="1088.1" y="612.5" width="0.8" height="4.4" fill="#e8f1fd"/><rect x="1090.1" y="611.5" width="0.8" height="5.4" fill="#e8f1fd"/></g>
<path d="M11.9 603.1H22.5V615.6H16.3V608.6H11.9z" fill="#131722"/>
<circle cx="26.2" cy="605.6" r="2.4" fill="#131722"/>
<path d="M29.6 603.1H36.3L31.2 615.6H24.6z" fill="#131722"/>
<text x="43.1" y="615.6" font-size="17.4" fill="#131722" font-weight="700" textLength="100.7" lengthAdjust="spacingAndGlyphs">TradingView</text>
</svg>
</body></html>
